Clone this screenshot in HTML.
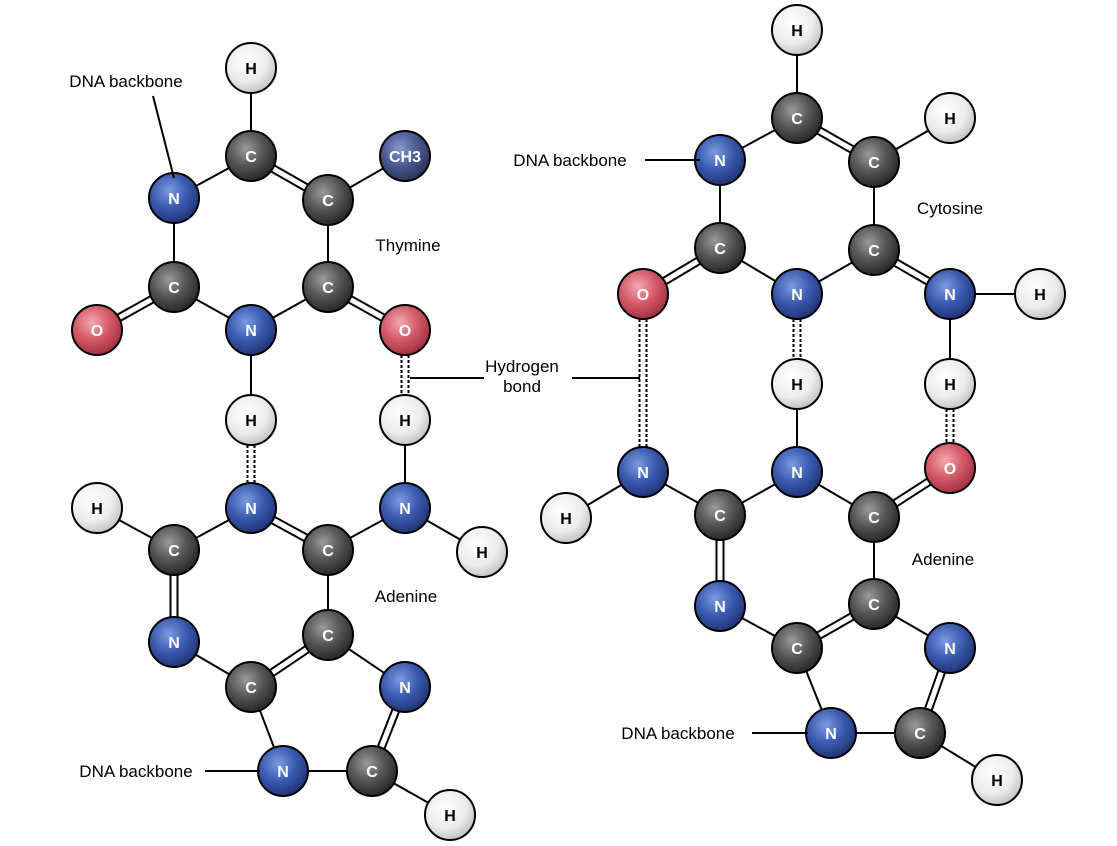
<!DOCTYPE html>
<html><head><meta charset="utf-8"><style>
html,body{margin:0;padding:0;background:#fff;}
svg{display:block;font-family:"Liberation Sans",Arial,sans-serif;}
</style></head><body>
<svg id="s" width="1117" height="846" viewBox="0 0 1117 846" xmlns="http://www.w3.org/2000/svg">
<defs>
<radialGradient id="gC" cx="0.4" cy="0.35" r="0.7"><stop offset="0" stop-color="#9a9a9a"/><stop offset="0.5" stop-color="#555"/><stop offset="1" stop-color="#222"/></radialGradient>
<radialGradient id="gN" cx="0.4" cy="0.35" r="0.7"><stop offset="0" stop-color="#7d9ae0"/><stop offset="0.5" stop-color="#3a5bb0"/><stop offset="1" stop-color="#1d2f70"/></radialGradient>
<radialGradient id="gO" cx="0.4" cy="0.35" r="0.7"><stop offset="0" stop-color="#f4a8b0"/><stop offset="0.5" stop-color="#d45a68"/><stop offset="1" stop-color="#a02a3a"/></radialGradient>
<radialGradient id="gH" cx="0.4" cy="0.35" r="0.7"><stop offset="0" stop-color="#ffffff"/><stop offset="0.6" stop-color="#ececec"/><stop offset="1" stop-color="#bdbdbd"/></radialGradient>
<radialGradient id="gM" cx="0.4" cy="0.35" r="0.7"><stop offset="0" stop-color="#8a9ad0"/><stop offset="0.5" stop-color="#4a5a90"/><stop offset="1" stop-color="#2a2f50"/></radialGradient>
</defs>
<g id="bonds" stroke="#000" stroke-width="2" fill="none"></g>
<g id="atoms"></g>
<g font-size="17" fill="#000">
<text x="126" y="87" text-anchor="middle">DNA backbone</text>
<text x="136" y="777" text-anchor="middle">DNA backbone</text>
<text x="570" y="166" text-anchor="middle">DNA backbone</text>
<text x="678" y="739" text-anchor="middle">DNA backbone</text>
<text x="408" y="251" text-anchor="middle">Thymine</text>
<text x="950" y="214" text-anchor="middle">Cytosine</text>
<text x="406" y="602" text-anchor="middle">Adenine</text>
<text x="943" y="565" text-anchor="middle">Adenine</text>
<text x="522" y="372" text-anchor="middle">Hydrogen</text>
<text x="522" y="392" text-anchor="middle">bond</text>
</g>
<g stroke="#000" stroke-width="2">
<line x1="153" y1="96" x2="174" y2="178"/>
<line x1="205" y1="771" x2="260" y2="771"/>
<line x1="645" y1="160" x2="700" y2="160"/>
<line x1="752" y1="733" x2="808" y2="733"/>
<line x1="410" y1="378" x2="484" y2="378"/>
<line x1="572" y1="378" x2="640" y2="378"/>
</g>
</svg>
<script>
const A={
t1:['H',251,68],t2:['C',251,156],t3:['M',405,156],t4:['N',174,198],t5:['C',328,200],t6:['C',174,287],t7:['C',328,287],t8:['O',97,330],t9:['N',251,330],t10:['O',405,330],t11:['H',251,420],t12:['H',405,420],
a1:['H',97,508],a2:['N',251,508],a3:['N',405,508],a4:['C',174,550],a5:['C',328,550],a6:['H',482,552],a7:['N',174,642],a8:['C',328,635],a9:['C',251,687],a10:['N',405,687],a11:['N',283,771],a12:['C',372,771],a13:['H',450,815],
c1:['H',797,30],c2:['C',797,118],c3:['H',950,118],c4:['N',720,160],c5:['C',874,162],c6:['C',720,248],c7:['C',874,250],c8:['O',643,294],c9:['N',797,294],c10:['N',950,294],c11:['H',1040,294],c12:['H',797,384],c13:['H',950,384],
b1:['N',643,472],b2:['N',797,472],b3:['O',950,468],b4:['H',566,518],b5:['C',720,515],b6:['C',874,517],b7:['N',720,606],b8:['C',874,604],b9:['C',797,648],b10:['N',950,648],b11:['N',831,733],b12:['C',920,733],b13:['H',997,780]};
const B=[['t1','t2'],['t2','t5',2],['t5','t3'],['t4','t2'],['t4','t6'],['t5','t7'],['t6','t8',2],['t6','t9'],['t9','t7'],['t7','t10',2],['t9','t11'],['t10','t12',3],
['t11','a2',3],['t12','a3'],['a3','a6'],['a2','a5',2],['a4','a2'],['a1','a4'],['a4','a7',2],['a5','a3'],['a5','a8'],['a7','a9'],['a9','a8',2],['a8','a10'],['a10','a12',2],['a9','a11'],['a11','a12'],['a12','a13'],
['c1','c2'],['c2','c5',2],['c5','c3'],['c4','c2'],['c4','c6'],['c5','c7'],['c6','c8',2],['c6','c9'],['c9','c7'],['c7','c10',2],['c10','c11'],['c10','c13'],['c9','c12',3],['c8','b1',3],['c13','b3',3],
['c12','b2'],['b1','b4'],['b1','b5'],['b5','b2'],['b2','b6'],['b6','b3',2],['b5','b7',2],['b7','b9'],['b9','b8',2],['b8','b6'],['b8','b10'],['b10','b12',2],['b9','b11'],['b11','b12'],['b12','b13']];
const NS='http://www.w3.org/2000/svg';
const bg=document.getElementById('bonds'),ag=document.getElementById('atoms');
function ln(x1,y1,x2,y2,d){const l=document.createElementNS(NS,'line');l.setAttribute('x1',x1);l.setAttribute('y1',y1);l.setAttribute('x2',x2);l.setAttribute('y2',y2);if(d)l.setAttribute('stroke-dasharray','3 2');bg.appendChild(l);}
B.forEach(([p,q,k])=>{const a=A[p],b=A[q];const dx=b[1]-a[1],dy=b[2]-a[2],L=Math.hypot(dx,dy);const nx=-dy/L*3.5,ny=dx/L*3.5;
if(!k)ln(a[1],a[2],b[1],b[2]);else{const d=k==3;ln(a[1]+nx,a[2]+ny,b[1]+nx,b[2]+ny,d);ln(a[1]-nx,a[2]-ny,b[1]-nx,b[2]-ny,d);}});
for(const k in A){const [t,x,y]=A[k];const c=document.createElementNS(NS,'circle');c.setAttribute('cx',x);c.setAttribute('cy',y);c.setAttribute('r',25);c.setAttribute('fill','url(#g'+t+')');c.setAttribute('stroke','#000');c.setAttribute('stroke-width','2');ag.appendChild(c);
const tx=document.createElementNS(NS,'text');tx.setAttribute('x',x);tx.setAttribute('y',y+6);tx.setAttribute('text-anchor','middle');tx.setAttribute('font-size',t=='M'?'16':'16');tx.setAttribute('font-weight','bold');tx.setAttribute('fill',t=='H'?'#000':'#fff');tx.textContent=t=='M'?'CH3':t;ag.appendChild(tx);}
</script>
</body></html>
